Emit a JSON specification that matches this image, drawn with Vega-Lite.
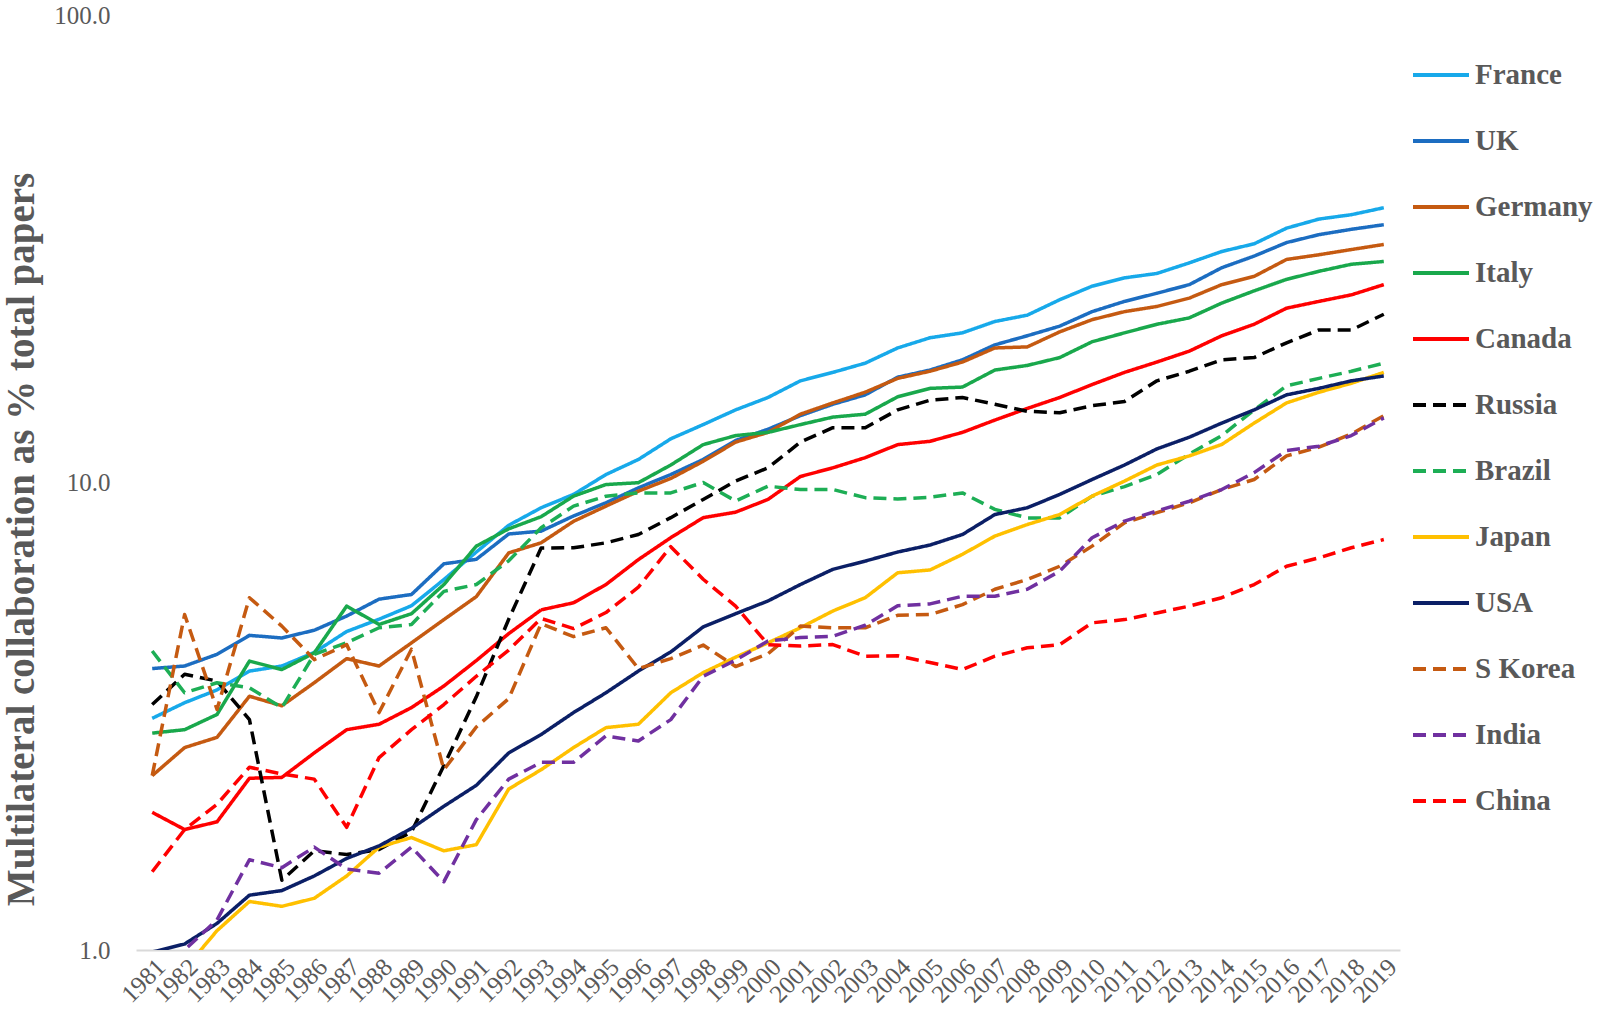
{
  "$schema": "https://vega.github.io/schema/vega-lite/v6.json",
  "width": 1264,
  "height": 935,
  "autosize": {"type": "none"},
  "padding": {"left": 136, "top": 15, "right": 203, "bottom": 76},
  "background": "white",
  "config": {
    "view": {"stroke": null},
    "legend": {
      "orient": "none",
      "legendX": 1275,
      "legendY": 30,
      "padding": 0,
      "offset": 0,
      "symbolType": "stroke",
      "symbolSize": 3136,
      "symbolStrokeWidth": 4,
      "labelFont": "Liberation Serif",
      "labelFontWeight": "bold",
      "labelFontSize": 29,
      "labelColor": "#595959",
      "labelOffset": 4,
      "rowPadding": 21,
      "labelLimit": 300
    }
  },
  "data": {
    "values": [
      {"year": 1981, "France": 3.13, "UK": 4.0, "Germany": 2.36, "Italy": 2.91, "Canada": 1.97, "Russia": 3.35, "Brazil": 4.36, "Japan": 0.86, "USA": 0.99, "S Korea": 2.36, "India": 0.8, "China": 1.47},
      {"year": 1982, "France": 3.38, "UK": 4.05, "Germany": 2.71, "Italy": 2.96, "Canada": 1.81, "Russia": 3.89, "Brazil": 3.55, "Japan": 0.91, "USA": 1.03, "S Korea": 5.22, "India": 1.0, "China": 1.81},
      {"year": 1983, "France": 3.6, "UK": 4.29, "Germany": 2.85, "Italy": 3.19, "Canada": 1.88, "Russia": 3.76, "Brazil": 3.73, "Japan": 1.1, "USA": 1.14, "S Korea": 3.27, "India": 1.16, "China": 2.05},
      {"year": 1984, "France": 3.95, "UK": 4.71, "Germany": 3.49, "Italy": 4.15, "Canada": 2.33, "Russia": 3.11, "Brazil": 3.64, "Japan": 1.27, "USA": 1.31, "S Korea": 5.67, "India": 1.56, "China": 2.46},
      {"year": 1985, "France": 4.05, "UK": 4.65, "Germany": 3.33, "Italy": 3.98, "Canada": 2.34, "Russia": 1.41, "Brazil": 3.3, "Japan": 1.24, "USA": 1.34, "S Korea": 4.93, "India": 1.5, "China": 2.38},
      {"year": 1986, "France": 4.33, "UK": 4.83, "Germany": 3.73, "Italy": 4.32, "Canada": 2.64, "Russia": 1.63, "Brazil": 4.29, "Japan": 1.29, "USA": 1.44, "S Korea": 4.18, "India": 1.66, "China": 2.32},
      {"year": 1987, "France": 4.8, "UK": 5.18, "Germany": 4.2, "Italy": 5.44, "Canada": 2.96, "Russia": 1.6, "Brazil": 4.54, "Japan": 1.44, "USA": 1.57, "S Korea": 4.5, "India": 1.49, "China": 1.83},
      {"year": 1988, "France": 5.1, "UK": 5.63, "Germany": 4.05, "Italy": 4.97, "Canada": 3.04, "Russia": 1.64, "Brazil": 4.89, "Japan": 1.66, "USA": 1.67, "S Korea": 3.22, "India": 1.46, "China": 2.58},
      {"year": 1989, "France": 5.45, "UK": 5.76, "Germany": 4.54, "Italy": 5.24, "Canada": 3.3, "Russia": 1.79, "Brazil": 4.97, "Japan": 1.74, "USA": 1.82, "S Korea": 4.4, "India": 1.66, "China": 2.96},
      {"year": 1990, "France": 6.2, "UK": 6.7, "Germany": 5.09, "Italy": 6.05, "Canada": 3.67, "Russia": 2.48, "Brazil": 5.85, "Japan": 1.63, "USA": 2.03, "S Korea": 2.43, "India": 1.4, "China": 3.35},
      {"year": 1991, "France": 7.1, "UK": 6.85, "Germany": 5.7, "Italy": 7.31, "Canada": 4.16, "Russia": 3.48, "Brazil": 6.05, "Japan": 1.68, "USA": 2.25, "S Korea": 3.0, "India": 1.9, "China": 3.85},
      {"year": 1992, "France": 8.1, "UK": 7.76, "Germany": 7.07, "Italy": 7.96, "Canada": 4.75, "Russia": 5.1, "Brazil": 6.8, "Japan": 2.21, "USA": 2.64, "S Korea": 3.45, "India": 2.32, "China": 4.38},
      {"year": 1993, "France": 8.83, "UK": 7.87, "Germany": 7.43, "Italy": 8.45, "Canada": 5.34, "Russia": 7.24, "Brazil": 8.0, "Japan": 2.43, "USA": 2.89, "S Korea": 4.99, "India": 2.52, "China": 5.12},
      {"year": 1994, "France": 9.43, "UK": 8.48, "Germany": 8.26, "Italy": 9.35, "Canada": 5.53, "Russia": 7.25, "Brazil": 8.9, "Japan": 2.71, "USA": 3.22, "S Korea": 4.68, "India": 2.52, "China": 4.87},
      {"year": 1995, "France": 10.4, "UK": 9.05, "Germany": 8.9, "Italy": 9.9, "Canada": 6.05, "Russia": 7.43, "Brazil": 9.35, "Japan": 2.99, "USA": 3.55, "S Korea": 4.89, "India": 2.87, "China": 5.27},
      {"year": 1996, "France": 11.2, "UK": 9.74, "Germany": 9.58, "Italy": 9.99, "Canada": 6.84, "Russia": 7.74, "Brazil": 9.5, "Japan": 3.04, "USA": 3.95, "S Korea": 4.0, "India": 2.8, "China": 5.97},
      {"year": 1997, "France": 12.4, "UK": 10.4, "Germany": 10.2, "Italy": 10.9, "Canada": 7.62, "Russia": 8.41, "Brazil": 9.5, "Japan": 3.55, "USA": 4.34, "S Korea": 4.2, "India": 3.11, "China": 7.29},
      {"year": 1998, "France": 13.3, "UK": 11.2, "Germany": 11.1, "Italy": 12.05, "Canada": 8.41, "Russia": 9.2, "Brazil": 10.0, "Japan": 3.92, "USA": 4.91, "S Korea": 4.49, "India": 3.85, "China": 6.21},
      {"year": 1999, "France": 14.3, "UK": 12.3, "Germany": 12.2, "Italy": 12.6, "Canada": 8.64, "Russia": 10.07, "Brazil": 9.13, "Japan": 4.23, "USA": 5.24, "S Korea": 4.04, "India": 4.17, "China": 5.44},
      {"year": 2000, "France": 15.2, "UK": 13.0, "Germany": 12.8, "Italy": 12.8, "Canada": 9.2, "Russia": 10.75, "Brazil": 9.82, "Japan": 4.54, "USA": 5.58, "S Korea": 4.3, "India": 4.58, "China": 4.5},
      {"year": 2001, "France": 16.5, "UK": 13.9, "Germany": 14.0, "Italy": 13.3, "Canada": 10.3, "Russia": 12.2, "Brazil": 9.66, "Japan": 4.89, "USA": 6.05, "S Korea": 4.93, "India": 4.66, "China": 4.47},
      {"year": 2002, "France": 17.2, "UK": 14.7, "Germany": 14.8, "Italy": 13.8, "Canada": 10.75, "Russia": 13.1, "Brazil": 9.66, "Japan": 5.31, "USA": 6.52, "S Korea": 4.89, "India": 4.69, "China": 4.5},
      {"year": 2003, "France": 18.0, "UK": 15.4, "Germany": 15.6, "Italy": 14.0, "Canada": 11.3, "Russia": 13.1, "Brazil": 9.28, "Japan": 5.67, "USA": 6.79, "S Korea": 4.89, "India": 4.95, "China": 4.25},
      {"year": 2004, "France": 19.4, "UK": 16.8, "Germany": 16.7, "Italy": 15.25, "Canada": 12.05, "Russia": 14.3, "Brazil": 9.22, "Japan": 6.41, "USA": 7.1, "S Korea": 5.2, "India": 5.45, "China": 4.26},
      {"year": 2005, "France": 20.4, "UK": 17.4, "Germany": 17.3, "Italy": 15.9, "Canada": 12.25, "Russia": 15.0, "Brazil": 9.3, "Japan": 6.5, "USA": 7.35, "S Korea": 5.22, "India": 5.5, "China": 4.12},
      {"year": 2006, "France": 20.9, "UK": 18.3, "Germany": 18.1, "Italy": 16.0, "Canada": 12.8, "Russia": 15.2, "Brazil": 9.5, "Japan": 7.02, "USA": 7.74, "S Korea": 5.48, "India": 5.71, "China": 3.98},
      {"year": 2007, "France": 22.1, "UK": 19.7, "Germany": 19.4, "Italy": 17.4, "Canada": 13.6, "Russia": 14.7, "Brazil": 8.76, "Japan": 7.68, "USA": 8.54, "S Korea": 5.91, "India": 5.71, "China": 4.25},
      {"year": 2008, "France": 22.8, "UK": 20.6, "Germany": 19.5, "Italy": 17.8, "Canada": 14.4, "Russia": 14.2, "Brazil": 8.4, "Japan": 8.13, "USA": 8.83, "S Korea": 6.2, "India": 5.91, "China": 4.43},
      {"year": 2009, "France": 24.6, "UK": 21.6, "Germany": 21.0, "Italy": 18.5, "Canada": 15.2, "Russia": 14.1, "Brazil": 8.4, "Japan": 8.54, "USA": 9.43, "S Korea": 6.62, "India": 6.46, "China": 4.5},
      {"year": 2010, "France": 26.3, "UK": 23.2, "Germany": 22.3, "Italy": 20.0, "Canada": 16.2, "Russia": 14.6, "Brazil": 9.35, "Japan": 9.35, "USA": 10.15, "S Korea": 7.31, "India": 7.62, "China": 5.01},
      {"year": 2011, "France": 27.4, "UK": 24.4, "Germany": 23.2, "Italy": 20.9, "Canada": 17.2, "Russia": 14.9, "Brazil": 9.8, "Japan": 10.07, "USA": 10.9, "S Korea": 8.2, "India": 8.27, "China": 5.09},
      {"year": 2012, "France": 28.0, "UK": 25.4, "Germany": 23.8, "Italy": 21.8, "Canada": 18.1, "Russia": 16.5, "Brazil": 10.4, "Japan": 10.9, "USA": 11.8, "S Korea": 8.62, "India": 8.69, "China": 5.26},
      {"year": 2013, "France": 29.5, "UK": 26.5, "Germany": 24.8, "Italy": 22.5, "Canada": 19.1, "Russia": 17.3, "Brazil": 11.5, "Japan": 11.4, "USA": 12.5, "S Korea": 9.05, "India": 9.12, "China": 5.44},
      {"year": 2014, "France": 31.2, "UK": 28.8, "Germany": 26.5, "Italy": 24.2, "Canada": 20.6, "Russia": 18.3, "Brazil": 12.6, "Japan": 12.06, "USA": 13.4, "S Korea": 9.66, "India": 9.66, "China": 5.67},
      {"year": 2015, "France": 32.4, "UK": 30.5, "Germany": 27.6, "Italy": 25.7, "Canada": 21.8, "Russia": 18.5, "Brazil": 14.3, "Japan": 13.4, "USA": 14.3, "S Korea": 10.15, "India": 10.5, "China": 6.05},
      {"year": 2016, "France": 35.0, "UK": 32.6, "Germany": 30.0, "Italy": 27.2, "Canada": 23.6, "Russia": 19.9, "Brazil": 16.1, "Japan": 14.8, "USA": 15.4, "S Korea": 11.4, "India": 11.7, "China": 6.62},
      {"year": 2017, "France": 36.6, "UK": 33.9, "Germany": 30.7, "Italy": 28.3, "Canada": 24.4, "Russia": 21.2, "Brazil": 16.7, "Japan": 15.6, "USA": 15.9, "S Korea": 11.9, "India": 11.96, "China": 6.9},
      {"year": 2018, "France": 37.4, "UK": 34.8, "Germany": 31.5, "Italy": 29.3, "Canada": 25.2, "Russia": 21.2, "Brazil": 17.3, "Japan": 16.3, "USA": 16.5, "S Korea": 12.7, "India": 12.6, "China": 7.25},
      {"year": 2019, "France": 38.7, "UK": 35.6, "Germany": 32.3, "Italy": 29.7, "Canada": 26.5, "Russia": 22.9, "Brazil": 18.0, "Japan": 17.2, "USA": 16.9, "S Korea": 13.9, "India": 13.75, "China": 7.55}
    ]
  },
  "transform": [
    {"fold": ["France", "UK", "Germany", "Italy", "Canada", "Russia", "Brazil", "Japan", "USA", "S Korea", "India", "China"], "as": ["country", "value"]}
  ],
  "mark": {"type": "line", "clip": true, "strokeWidth": 3.5, "strokeJoin": "round"},
  "encoding": {
    "x": {
      "field": "year",
      "type": "ordinal",
      "scale": {"type": "point", "padding": 0.5},
      "axis": {
        "title": null,
        "labelAngle": -45,
        "labelFont": "Liberation Serif",
        "labelFontSize": 25,
        "labelColor": "#595959",
        "labelPadding": 4,
        "labelOverlap": false,
        "ticks": false,
        "tickSize": 0,
        "domainColor": "#D9D9D9",
        "domainWidth": 2,
        "grid": false
      }
    },
    "y": {
      "field": "value",
      "type": "quantitative",
      "scale": {"type": "log", "domain": [1, 100], "nice": false},
      "axis": {
        "values": [1, 10, 100],
        "format": ".1f",
        "grid": false,
        "domain": false,
        "ticks": false,
        "tickSize": 0,
        "labelFont": "Liberation Serif",
        "labelFontSize": 25,
        "labelColor": "#595959",
        "labelPadding": 26,
        "title": "Multilateral collaboration as % total papers",
        "titleFont": "Liberation Serif",
        "titleFontWeight": "bold",
        "titleFontSize": 39,
        "titleColor": "#595959",
        "titleAngle": -90,
        "titleAlign": "center",
        "titleBaseline": "alphabetic",
        "titleX": -103,
        "titleY": 524
      }
    },
    "color": {
      "field": "country",
      "type": "nominal",
      "title": null,
      "scale": {
        "domain": ["France", "UK", "Germany", "Italy", "Canada", "Russia", "Brazil", "Japan", "USA", "S Korea", "India", "China"],
        "range": ["#17A9EA", "#1C6DC1", "#C55A11", "#19A84C", "#FF0000", "#000000", "#1DAE55", "#FFC000", "#0B1F66", "#C55A11", "#7030A0", "#FF0000"]
      }
    },
    "strokeDash": {
      "field": "country",
      "type": "nominal",
      "title": null,
      "scale": {
        "domain": ["France", "UK", "Germany", "Italy", "Canada", "Russia", "Brazil", "Japan", "USA", "S Korea", "India", "China"],
        "range": [[1, 0], [1, 0], [1, 0], [1, 0], [1, 0], [13, 7], [13, 7], [1, 0], [1, 0], [13, 7], [13, 7], [13, 7]]
      }
    }
  }
}
